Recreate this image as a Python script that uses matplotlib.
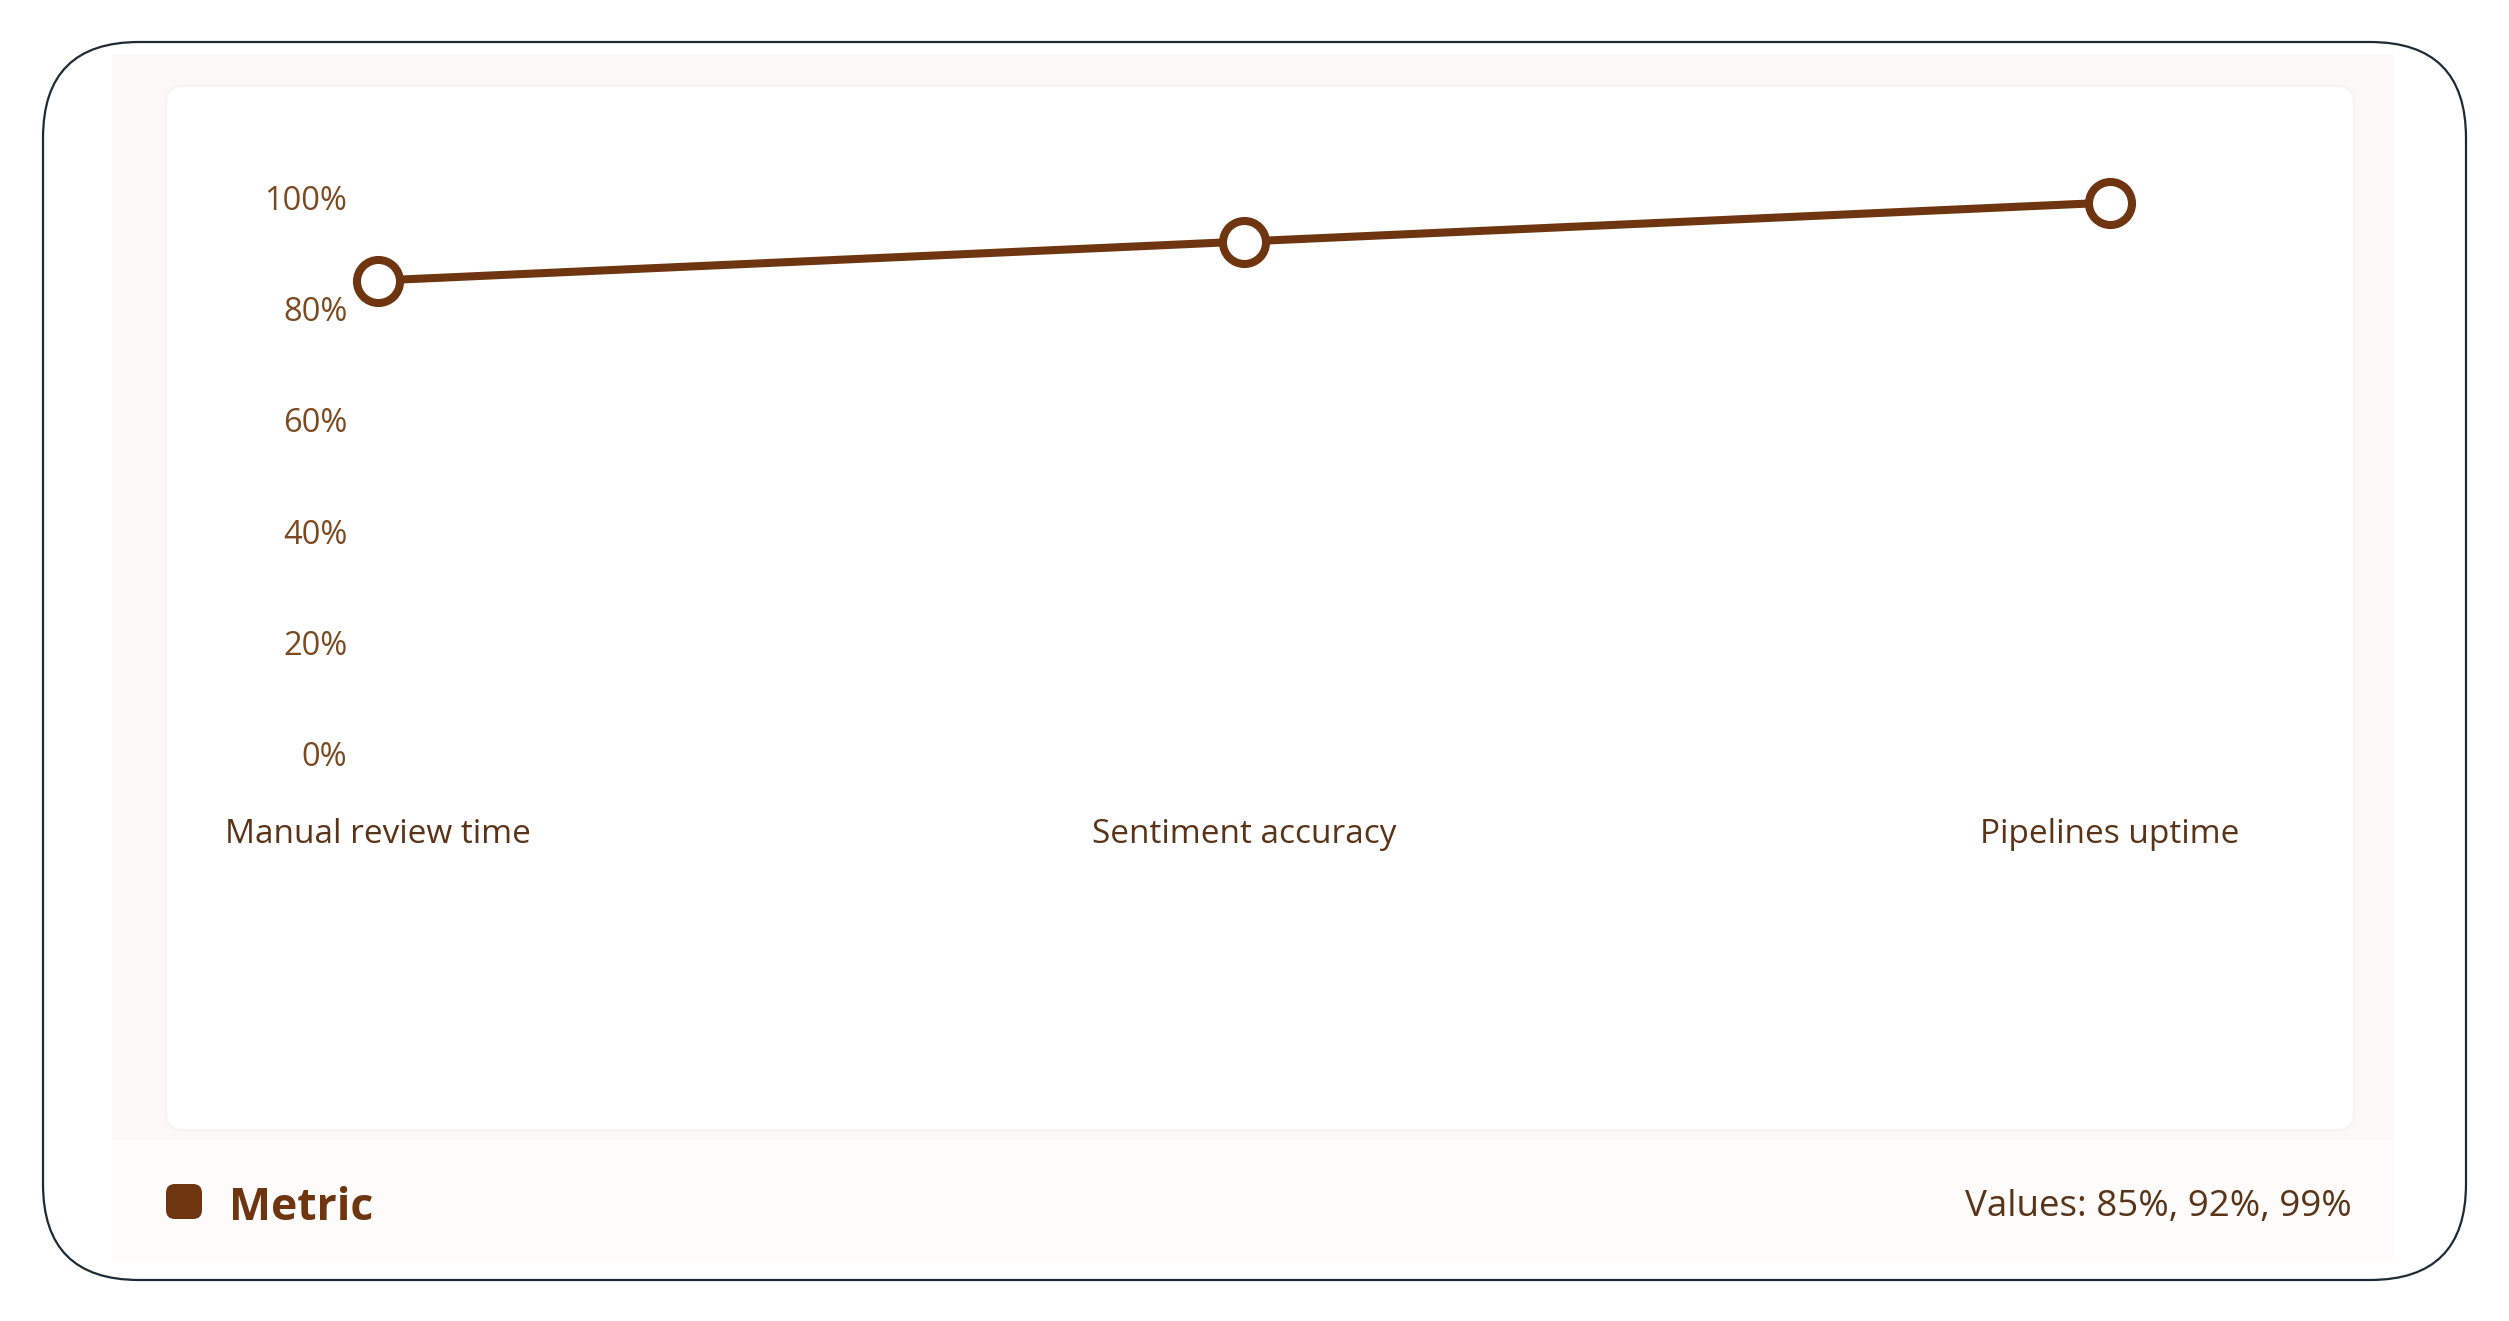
import matplotlib
matplotlib.use("Agg")
import matplotlib.pyplot as plt
from matplotlib.patches import FancyBboxPatch
from matplotlib.ticker import FuncFormatter

categories = ["Manual review time", "Sentiment accuracy", "Pipelines uptime"]
values = [85, 92, 99]
yticks = [0, 20, 40, 60, 80, 100]
series_name = "Metric"

W, H = 2509, 1321
LINE = "#6e3510"
TICK = "#7a4a22"
LABEL = "#5a3418"

plt.rcParams['font.family'] = ['Open Sans', 'DejaVu Sans']

fig = plt.figure(figsize=(W / 100, H / 100), dpi=100)
fig.patch.set_facecolor("white")

bg = fig.add_axes([0, 0, 1, 1], zorder=0)
bg.set_xlim(0, W)
bg.set_ylim(H, 0)
bg.axis("off")

# outer rounded border
bg.add_patch(FancyBboxPatch((43, 42), 2466 - 43, 1280 - 42,
                            boxstyle="round,pad=0,rounding_size=96",
                            facecolor="white", edgecolor="#1c2b36", linewidth=1.6))
# light panel
bg.add_patch(FancyBboxPatch((112, 54), 2394 - 112, 1262 - 54,
                            boxstyle="square,pad=0", facecolor="#faf9f7", edgecolor="none"))
bg.add_patch(FancyBboxPatch((112, 1140), 2394 - 112, 1262 - 1140,
                            boxstyle="square,pad=0", facecolor="#fdfcfb", edgecolor="none"))
# white card
bg.add_patch(FancyBboxPatch((166, 86), 2354 - 166, 1130 - 86,
                            boxstyle="round,pad=0,rounding_size=18",
                            facecolor="white", edgecolor="#f5f2ef", linewidth=1.0))

# legend
bg.add_patch(FancyBboxPatch((166, 1184), 36, 35,
                            boxstyle="round,pad=0,rounding_size=9",
                            facecolor=LINE, edgecolor="none"))
bg.text(229, 1208, series_name, fontsize=32, fontweight="bold", color=LINE,
        ha="left", va="center")
bg.text(2352, 1207, "Values: " + ", ".join(f"{v}%" for v in values),
        fontsize=26.5, color=LABEL, ha="right", va="center")

# main axes
left, right = 378, 2110
top, bottom = 197, 754
ax = fig.add_axes([left / W, (H - bottom) / H, (right - left) / W, (bottom - top) / H], zorder=2)
ax.patch.set_alpha(0)
x = list(range(len(categories)))
ax.plot(x, values, color=LINE, linewidth=5.8, marker="o", markersize=31,
        markerfacecolor="white", markeredgecolor=LINE, markeredgewidth=5.8,
        clip_on=False, zorder=3)
ax.set_xlim(0, len(categories) - 1)
ax.set_ylim(0, 100)
ax.set_yticks(yticks)
ax.yaxis.set_major_formatter(FuncFormatter(lambda v, p: f"{int(v)}%"))
ax.set_xticks(x)
ax.set_xticklabels(categories)
for s in ax.spines.values():
    s.set_visible(False)
ax.tick_params(axis="y", length=0, pad=22, labelsize=23.5, labelcolor=TICK)
ax.tick_params(axis="x", length=0, pad=46, labelsize=24, labelcolor=LABEL)

fig.savefig("out.png", dpi=100, facecolor="white")
